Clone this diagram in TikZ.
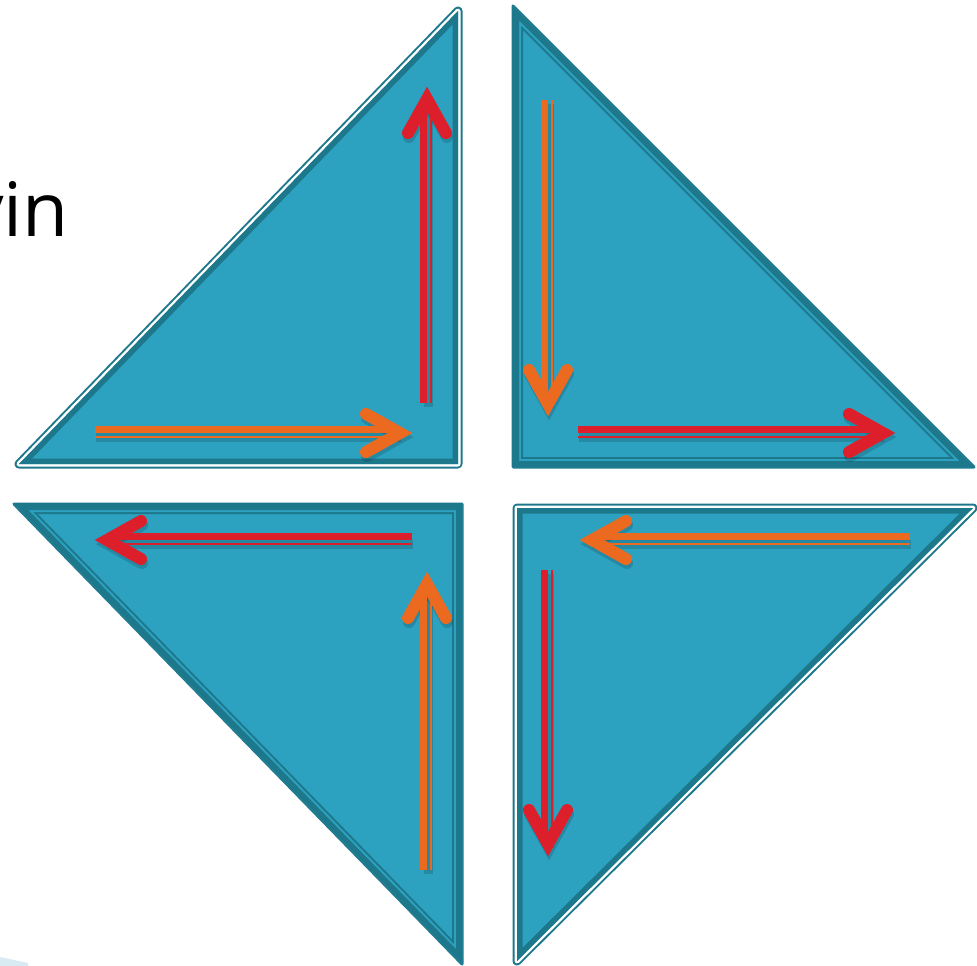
\documentclass[tikz,border=0pt]{standalone}
\usepackage{fontspec}
\setmainfont{Open Sans}
\usetikzlibrary{arrows.meta}
\definecolor{tilefill}{HTML}{2CA1C0}
\definecolor{tileedge}{HTML}{1E788C}
\definecolor{flowred}{HTML}{DC1F2A}
\definecolor{floworange}{HTML}{EC6A1F}
\definecolor{haze}{HTML}{D8EAF2}

% tile with white outer frame
\newcommand{\framedtile}[1]{%
  \draw[tileedge, line width=9, line join=round] #1;
  \draw[white, line width=5, line join=round] #1;
  \fill[tilefill] #1;
  \begin{scope}
    \clip #1;
    \draw[tileedge, line width=11] #1;
  \end{scope}}
% tile with dark rim and inner line
\newcommand{\bandedtile}[1]{%
  \draw[tileedge, line width=3, line join=round] #1;
  \fill[tilefill] #1;
  \begin{scope}
    \clip #1;
    \draw[tileedge, line width=20] #1;
    \draw[tilefill, line width=16] #1;
    \draw[tileedge, line width=12] #1;
  \end{scope}}

\begin{document}
\begin{tikzpicture}[
  x=1pt, y=-1pt,
  hthick/.style={line width=6.5, transform canvas={yshift=3.5pt}},
  hthin/.style={line width=2, transform canvas={yshift=-3.5pt}},
  vthick/.style={line width=6.5, transform canvas={xshift=-3.5pt}},
  vthin/.style={line width=2, transform canvas={xshift=3.5pt}},
  chev/.pic={\draw[line width=12, line cap=round] (-34,19) -- (0,0) -- (-34,-19);}
]
  \useasboundingbox (0,0) rectangle (977,966);

  % Tiles
  \framedtile{(19,464) -- (458,464) -- (458,11) -- cycle}
  \bandedtile{(513,6) -- (513,467) -- (974,467) -- cycle}
  \bandedtile{(14,504) -- (462,504) -- (462,964) -- cycle}
  \framedtile{(517,508) -- (973,508) -- (517,961) -- cycle}

  % Arrow ends
  \coordinate (tlUpA) at (427,403);    \coordinate (tlUpB) at (427,99);
  \coordinate (tlRightA) at (95,433);  \coordinate (tlRightB) at (400,433);
  \coordinate (trDownA) at (548,100);  \coordinate (trDownB) at (548,404);
  \coordinate (trRightA) at (578,433); \coordinate (trRightB) at (883,433);
  \coordinate (blLeftA) at (412,540);  \coordinate (blLeftB) at (107,540);
  \coordinate (blUpA) at (427,870);    \coordinate (blUpB) at (427,584);
  \coordinate (brLeftA) at (910,540);  \coordinate (brLeftB) at (592,540);
  \coordinate (brDownA) at (548,570);  \coordinate (brDownB) at (548,844);

  % Shadows
  \begin{scope}[transform canvas={shift={(1pt,-4pt)}}, opacity=.15]
    \foreach \a/\b/\r in {tlUpA/tlUpB/90, tlRightA/tlRightB/0,
        trDownA/trDownB/270, trRightA/trRightB/0, blLeftA/blLeftB/180,
        blUpA/blUpB/90, brLeftA/brLeftB/180, brDownA/brDownB/270} {
      \draw[black, line width=9] (\a) -- (\b);
      \pic[black, rotate=\r] at (\b) {chev};
    }
  \end{scope}

  % Arrows
  \foreach \c/\a/\b/\r/\dir in {flowred/tlUpA/tlUpB/90/v,
      floworange/tlRightA/tlRightB/0/h, floworange/trDownA/trDownB/270/v,
      flowred/trRightA/trRightB/0/h, flowred/blLeftA/blLeftB/180/h,
      floworange/blUpA/blUpB/90/v, floworange/brLeftA/brLeftB/180/h,
      flowred/brDownA/brDownB/270/v} {
    \draw[\c, \dir thick] (\a) -- (\b);
    \draw[\c, \dir thin] (\a) -- (\b);
    \pic[\c, rotate=\r] at (\b) {chev};
  }

  % Cut-off word and sliver
  \node[font=\fontsize{75}{80}\selectfont, anchor=base east, inner sep=0pt] (word) at (69,236) {vin};
  \fill[haze] (0,957) -- (28,963) -- (28,966) -- (0,966) -- cycle;
\end{tikzpicture}
\end{document}
